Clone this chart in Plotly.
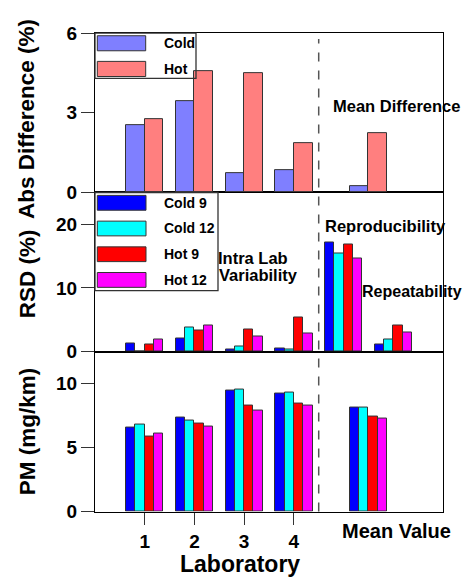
import plotly.graph_objects as go

# ---------------- data ----------------
diff_x = [1, 2, 3, 4, 5.5]
diff_cold = [2.55, 3.45, 0.73, 0.85, 0.23]
diff_hot = [2.78, 4.57, 4.51, 1.86, 2.24]

rsd_x = [1, 2, 3, 4, 5, 6]
rsd_cold9 = [1.26, 2.07, 0.30, 0.45, 17.07, 1.06]
rsd_cold12 = [0.0, 3.79, 0.86, 0.30, 15.40, 1.82]
rsd_hot9 = [1.08, 3.33, 3.54, 5.38, 16.82, 4.04]
rsd_hot12 = [1.82, 4.14, 2.32, 2.88, 14.55, 2.93]

pm_x = [1, 2, 3, 4, 5.5]
pm_cold9 = [6.58, 7.34, 9.45, 9.20, 8.14]
pm_cold12 = [6.76, 7.09, 9.50, 9.27, 8.14]
pm_hot9 = [5.88, 6.91, 8.29, 8.44, 7.39]
pm_hot12 = [6.06, 6.63, 7.91, 8.32, 7.24]

lab_ticks = [1, 2, 3, 4]
lab_labels = ["1", "2", "3", "4"]

# ---------------- layout helpers ----------------
W, H = 465, 584
def px(x):
    return x / W
def py(y):
    return 1 - y / H

FONT = "Liberation Sans, Arial, sans-serif"
EDGE = "#333333"
C_COLD, C_HOT = "#7F7FFF", "#FF7F7F"
C4 = ["#0000FF", "#00FFFF", "#FF0000", "#FF00FF"]
N4 = ["Cold 9", "Cold 12", "Hot 9", "Hot 12"]

fig = go.Figure()

# top panel: abs difference
bw2 = 0.375
for vals, col, off, name in [(diff_cold, C_COLD, -bw2, "Cold"), (diff_hot, C_HOT, 0.0, "Hot")]:
    fig.add_trace(go.Bar(x=diff_x, y=vals, width=bw2, offset=off, name=name,
                         marker=dict(color=col, line=dict(color=EDGE, width=1)),
                         xaxis="x3", yaxis="y3", showlegend=False))

bw4 = 0.1875
offs = [-0.375, -0.1875, 0.0, 0.1875]
for vals, col, off, name in zip([rsd_cold9, rsd_cold12, rsd_hot9, rsd_hot12], C4, offs, N4):
    fig.add_trace(go.Bar(x=rsd_x, y=vals, width=bw4, offset=off, name=name,
                         marker=dict(color=col, line=dict(color=EDGE, width=1)),
                         xaxis="x2", yaxis="y2", showlegend=False))

for vals, col, off, name in zip([pm_cold9, pm_cold12, pm_hot9, pm_hot12], C4, offs, N4):
    fig.add_trace(go.Bar(x=pm_x, y=vals, width=bw4, offset=off, name=name,
                         marker=dict(color=col, line=dict(color=EDGE, width=1)),
                         xaxis="x", yaxis="y", showlegend=False))

xdom = [px(95), px(443)]
d_bot = [py(520.3), py(354.3)]
d_mid = [py(354.3), py(189.3)]
d_top = [py(189.3), py(24)]

axline = dict(showline=True, linecolor="black", linewidth=1.3, mirror=True,
              showgrid=False, zeroline=False)
tickf = dict(family=FONT, size=19, color="black", weight="bold")

fig.update_layout(
    width=W, height=H, margin=dict(l=0, r=0, t=0, b=0),
    paper_bgcolor="white", plot_bgcolor="white",
    barmode="overlay", bargap=0,
    xaxis=dict(domain=xdom, range=[0, 7], anchor="y", tickvals=lab_ticks, ticktext=lab_labels,
               ticks="outside", ticklen=12, tickcolor="#333", tickwidth=1.3, tickfont=tickf, **axline),
    xaxis2=dict(domain=xdom, range=[0, 7], anchor="y2", showticklabels=False, ticks="", **axline),
    xaxis3=dict(domain=xdom, range=[0, 7], anchor="y3", showticklabels=False, ticks="", **axline),
    yaxis=dict(domain=d_bot, range=[0, 12.5], anchor="x", tickvals=[0, 5, 10],
               ticks="outside", ticklen=13, tickcolor="#333", tickwidth=1.3, tickfont=tickf, **axline),
    yaxis2=dict(domain=d_mid, range=[0, 25], anchor="x2", tickvals=[0, 10, 20],
                ticks="outside", ticklen=13, tickcolor="#333", tickwidth=1.3, tickfont=tickf, **axline),
    yaxis3=dict(domain=d_top, range=[0, 6], anchor="x3", tickvals=[0, 3, 6],
                ticks="outside", ticklen=13, tickcolor="#333", tickwidth=1.3, tickfont=tickf, **axline),
)

shapes = []
# dashed separator
shapes.append(dict(type="line", xref="x", yref="paper", x0=4.5, x1=4.5, y0=py(520.3), y1=py(30),
                   line=dict(color="#555555", width=1.5, dash="dash")))
# legend boxes
shapes.append(dict(type="rect", xref="paper", yref="paper", x0=px(95), x1=px(196), y0=py(71), y1=py(24),
                   line=dict(color="#333", width=1.3), fillcolor="rgba(0,0,0,0)"))
shapes.append(dict(type="rect", xref="paper", yref="paper", x0=px(95), x1=px(218), y0=py(291), y1=py(189.3),
                   line=dict(color="#333", width=1.3), fillcolor="rgba(0,0,0,0)"))
annos = []
legfont = dict(family=FONT, size=14, color="black", weight="bold")
for (y0, y1), col, name in [((26.7, 42.3), C_COLD, "Cold"), ((53.3, 69), C_HOT, "Hot")]:
    shapes.append(dict(type="rect", xref="paper", yref="paper", x0=px(97.3), x1=px(145.7),
                       y0=py(y1), y1=py(y0), fillcolor=col, line=dict(color=EDGE, width=1)))
    annos.append(dict(x=px(162), y=py((y0 + y1) / 2), xref="paper", yref="paper", text=name,
                      showarrow=False, xanchor="left", yanchor="middle", font=legfont))
for (y0, y1), col, name in zip([(192.3, 207.7), (219, 234.3), (245.7, 261), (272.3, 287.7)], C4, N4):
    shapes.append(dict(type="rect", xref="paper", yref="paper", x0=px(97.3), x1=px(146),
                       y0=py(y1), y1=py(y0), fillcolor=col, line=dict(color=EDGE, width=1)))
    annos.append(dict(x=px(162), y=py((y0 + y1) / 2), xref="paper", yref="paper", text=name,
                      showarrow=False, xanchor="left", yanchor="middle", font=legfont))

lblfont = dict(family=FONT, size=16.5, color="black", weight="bold")
for txt, x, y, fs in [("Mean Difference", 331, 100, 16.5), ("Reproducibility", 323, 224, 16.5),
                      ("Repeatability", 360, 292, 16), ("Intra Lab", 216, 257, 16.5),
                      ("Variability", 217, 275, 16.5)]:
    annos.append(dict(x=px(x), y=py(y), xref="paper", yref="paper", text=txt, showarrow=False,
                      xanchor="left", yanchor="middle", font=dict(lblfont, size=fs)))

titlefont = dict(family=FONT, size=22.5, color="black", weight="bold")
annos.append(dict(x=px(27), y=py(274), xref="paper", yref="paper", text="RSD (%)", textangle=-90,
                  showarrow=False, xanchor="center", yanchor="middle", font=titlefont))
annos.append(dict(x=px(27), y=py(113), xref="paper", yref="paper", text="Abs Difference (%)", textangle=-90,
                  showarrow=False, xanchor="center", yanchor="middle", font=titlefont))
annos.append(dict(x=px(27), y=py(437), xref="paper", yref="paper", text="PM (mg/km)", textangle=-90,
                  showarrow=False, xanchor="center", yanchor="middle", font=titlefont))
annos.append(dict(x=px(240), y=py(575), xref="paper", yref="paper", text="Laboratory",
                  showarrow=False, xanchor="center", yanchor="middle",
                  font=dict(family=FONT, size=23, color="black", weight="bold")))
annos.append(dict(x=px(396), y=py(540), xref="paper", yref="paper", text="Mean Value",
                  showarrow=False, xanchor="center", yanchor="middle",
                  font=dict(family=FONT, size=20, color="black", weight="bold")))

fig.update_layout(shapes=shapes, annotations=annos)
fig.write_html("out.html")
